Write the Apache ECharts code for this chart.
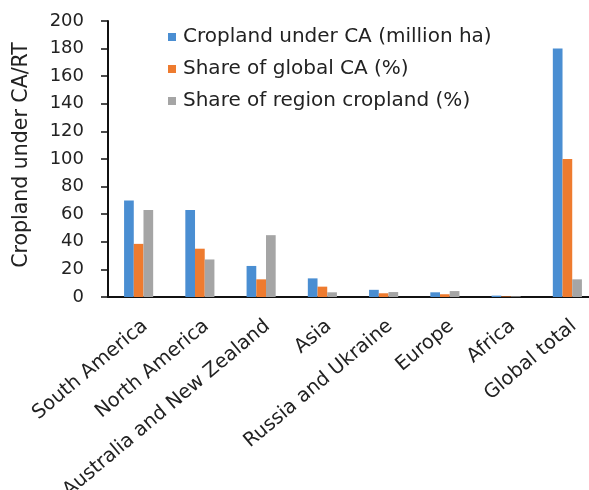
<!DOCTYPE html>
<html>
<head>
<meta charset="utf-8">
<script src="https://cdn.jsdelivr.net/npm/echarts@6/dist/echarts.min.js"></script>
<style>
  html, body { margin: 0; padding: 0; background: #fff; }
  #chart { width: 589px; height: 490px; }
</style>
</head>
<body>
<div id="chart"></div>
<script>
// Conservation agriculture / reduced tillage by region
const regions = ['South America', 'North America', 'Australia and New Zealand', 'Asia',
                 'Russia and Ukraine', 'Europe', 'Africa', 'Global total'];
const croplandUnderCA = [70, 63, 22.5, 13.5, 5.2, 3.4, 1.0, 180];   // million ha
const shareOfGlobalCA = [38.5, 35, 12.8, 7.5, 2.7, 2.0, 0.4, 100];  // %
const shareOfRegionCropland = [63, 27.2, 44.8, 3.4, 3.6, 4.3, 0.5, 12.8]; // %
const yTicks = { min: 0, max: 200, interval: 20 };

const FONT = 'DejaVu Sans';
const chart = echarts.init(document.getElementById('chart'), null, { renderer: 'canvas' });

function barSeries(name, data, color) {
  return {
    name, type: 'bar', data,
    barWidth: 9.7, barGap: '0%',
    itemStyle: { color },
    emphasis: { disabled: true }
  };
}

chart.setOption({
  animation: false,
  backgroundColor: '#ffffff',
  textStyle: { fontFamily: FONT },
  grid: { left: 108, top: 21, bottom: 193, width: 490, containLabel: false, outerBoundsMode: 'none' },
  legend: {
    orient: 'vertical', left: 163, top: 22,
    itemWidth: 8, itemHeight: 8, itemGap: 12,
    icon: 'rect',
    textStyle: { fontFamily: FONT, fontSize: 20, color: '#222', padding: [0, 0, 0, 2] },
    data: ['Cropland under CA (million ha)', 'Share of global CA (%)', 'Share of region cropland (%)']
  },
  xAxis: {
    type: 'category', data: regions,
    axisLine: { lineStyle: { color: '#111', width: 2 } },
    axisTick: { show: false },
    axisLabel: {
      rotate: 40, interval: 0, margin: 19, verticalAlign: 'top',
      fontFamily: FONT, fontSize: 19.5, color: '#222'
    }
  },
  yAxis: {
    type: 'value', min: yTicks.min, max: yTicks.max, interval: yTicks.interval,
    name: 'Cropland under CA/RT', nameLocation: 'middle', nameGap: 76,
    nameTextStyle: { fontFamily: FONT, fontSize: 20.5, color: '#222', padding: [0, 0, 0, 8] },
    axisLine: { show: true, lineStyle: { color: '#111', width: 2 } },
    axisTick: { show: true, inside: false, length: 7, lineStyle: { color: '#111', width: 1.5 } },
    axisLabel: { margin: 24, fontFamily: FONT, fontSize: 18, color: '#222' },
    splitLine: { show: false }
  },
  series: [
    barSeries('Cropland under CA (million ha)', croplandUnderCA, '#4a8ed2'),
    barSeries('Share of global CA (%)', shareOfGlobalCA, '#ee7b2f'),
    barSeries('Share of region cropland (%)', shareOfRegionCropland, '#a5a5a5')
  ]
});
</script>
</body>
</html>
